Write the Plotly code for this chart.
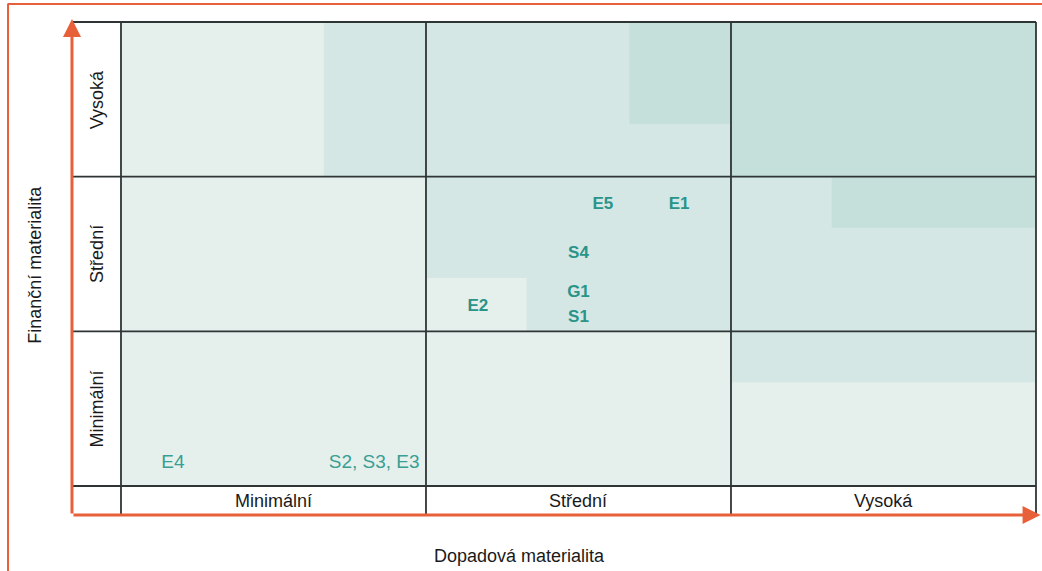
import plotly.graph_objects as go

# ---- data ----
col_levels = ["Minimální", "Střední", "Vysoká"]   # Dopadová materialita (x)
row_levels = ["Minimální", "Střední", "Vysoká"]   # Finanční materialita (y)

item_labels = ["E5", "E1", "S4", "G1", "S1", "E2", "E4", "S2, S3, E3"]
item_x = [1.58, 1.83, 1.50, 1.50, 1.50, 1.17, 0.17, 0.83]
item_y = [1.82, 1.82, 1.50, 1.25, 1.09, 1.16, 0.15, 0.15]
item_bold = [True, True, True, True, True, True, False, False]

# base shade level per cell [row][col] (0 light, 1 medium, 2 dark)
cell_level = [
    [0, 0, 0],
    [0, 1, 1],
    [0, 1, 2],
]
# partial shading overlays: (x0, x1, y0, y1, level)
overlays = [
    (2.0, 3.0, 0.67, 1.0, 1),
    (1.0, 1.33, 1.0, 1.345, 0),
    (2.33, 3.0, 1.67, 2.0, 2),
    (0.665, 1.0, 2.0, 3.0, 1),
    (1.667, 2.0, 2.34, 3.0, 2),
]

shade_colors = ["#E5F0ED", "#D4E7E4", "#C5E0DB"]
ORANGE = "#E8603A"
GRID = "#2F3435"
TEAL = "#2A9488"
TEAL_LIGHT = "#3A9E92"

fig = go.Figure()

shapes = []
for r in range(3):
    for c in range(3):
        shapes.append(dict(type="rect", x0=c, x1=c + 1, y0=r, y1=r + 1,
                           fillcolor=shade_colors[cell_level[r][c]],
                           line=dict(width=0), layer="below"))
for x0, x1, y0, y1, lv in overlays:
    shapes.append(dict(type="rect", x0=x0, x1=x1, y0=y0, y1=y1,
                       fillcolor=shade_colors[lv], line=dict(width=0), layer="below"))

LX = -0.1607   # left edge of label column
BY = -0.1875   # bottom of label row
for v in [0, 1, 2, 3]:
    shapes.append(dict(type="line", x0=LX, x1=3, y0=v, y1=v,
                       line=dict(color=GRID, width=1.8)))
for u in [0, 1, 2, 3]:
    shapes.append(dict(type="line", x0=u, x1=u, y0=BY, y1=3,
                       line=dict(color=GRID, width=1.8)))

# outer orange frame (top and left)
shapes.append(dict(type="line", xref="paper", yref="paper", x0=0.0072, x1=1.0,
                   y0=0.993, y1=0.993, line=dict(color=ORANGE, width=2)))
shapes.append(dict(type="line", xref="paper", yref="paper", x0=0.0077, x1=0.0077,
                   y0=0.0, y1=0.993, line=dict(color=ORANGE, width=2)))

annotations = []
# arrows
annotations.append(dict(x=LX, y=3.02, ax=LX, ay=BY, xref="x", yref="y",
                        axref="x", ayref="y", text="", showarrow=True,
                        arrowhead=2, arrowsize=1.2, arrowwidth=3, arrowcolor=ORANGE))
annotations.append(dict(x=3.015, y=BY, ax=LX, ay=BY, xref="x", yref="y",
                        axref="x", ayref="y", text="", showarrow=True,
                        arrowhead=2, arrowsize=1.2, arrowwidth=3, arrowcolor=ORANGE))

FONT = "Liberation Sans, Arial, sans-serif"
for i, name in enumerate(col_levels):
    annotations.append(dict(x=i + 0.5, y=-0.097, text=name, showarrow=False,
                            font=dict(family=FONT, size=18, color="#1a1a1a")))
for j, name in enumerate(row_levels):
    annotations.append(dict(x=-0.079, y=j + 0.5, text=name, showarrow=False, textangle=-90,
                            font=dict(family=FONT, size=18, color="#1a1a1a")))

annotations.append(dict(x=-0.282, y=1.43, text="Finanční materialita", showarrow=False,
                        textangle=-90, font=dict(family=FONT, size=18, color="#1a1a1a")))
annotations.append(dict(x=1.308, y=-0.453, text="Dopadová materialita", showarrow=False,
                        font=dict(family=FONT, size=18, color="#1a1a1a")))

for t, x, y, b in zip(item_labels, item_x, item_y, item_bold):
    pass

bold_idx = [i for i, b in enumerate(item_bold) if b]
norm_idx = [i for i, b in enumerate(item_bold) if not b]

fig.add_trace(go.Scatter(
    x=[item_x[i] for i in bold_idx], y=[item_y[i] for i in bold_idx], mode="text",
    text=[f"<b>{item_labels[i]}</b>" for i in bold_idx],
    textfont=dict(family=FONT, size=17, color=TEAL),
    hoverinfo="skip", showlegend=False))
fig.add_trace(go.Scatter(
    x=[item_x[i] for i in norm_idx], y=[item_y[i] for i in norm_idx], mode="text",
    text=[item_labels[i] for i in norm_idx],
    textfont=dict(family=FONT, size=19, color=TEAL_LIGHT),
    hoverinfo="skip", showlegend=False))

fig.update_layout(
    width=1042, height=571,
    margin=dict(l=0, r=0, t=0, b=0),
    paper_bgcolor="white", plot_bgcolor="white",
    shapes=shapes, annotations=annotations,
    xaxis=dict(range=[-0.3967, 3.0197], visible=False, fixedrange=True),
    yaxis=dict(range=[-0.5496, 3.1422], visible=False, fixedrange=True),
    showlegend=False,
)

fig.write_html("out.html")
